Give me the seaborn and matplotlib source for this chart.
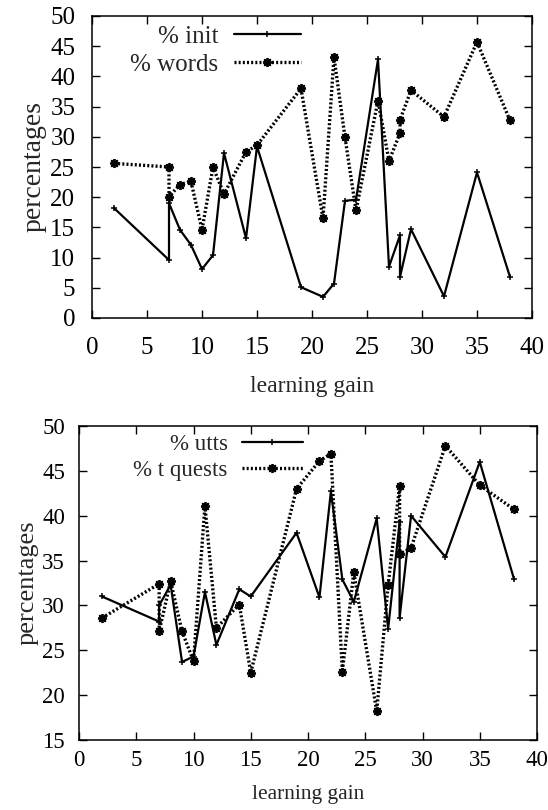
import pandas as pd
import matplotlib
matplotlib.use("Agg")
import matplotlib.pyplot as plt
import seaborn as sns

# values (learning gain sorted, duplicates kept in plot order)
gain = [2, 7, 7, 8, 9, 10, 11, 12, 14, 15, 19, 21, 22, 23, 24, 26, 27, 28, 28, 29, 32, 35, 38]

pct_init = [18.2, 9.6, 19.0, 14.6, 12.1, 8.1, 10.4, 27.3, 13.2, 28.4, 5.1, 3.5,
            5.7, 19.4, 19.6, 42.8, 8.5, 13.7, 6.8, 14.7, 3.6, 24.1, 6.8]
pct_words = [25.6, 25.0, 20.1, 22.1, 22.6, 14.6, 25.0, 20.5, 27.5, 28.6, 38.0, 16.5,
             43.2, 29.9, 17.8, 36.0, 26.0, 30.6, 32.8, 37.7, 33.3, 45.7, 32.7]

pct_utts = [31.0, 28.2, 30.0, 32.3, 23.7, 24.3, 31.5, 25.6, 31.8, 31.0, 38.1, 30.9,
            42.7, 32.9, 30.4, 39.7, 27.4, 39.3, 28.6, 40.0, 35.4, 46.0, 32.9]
pct_tquests = [28.6, 32.4, 27.1, 32.7, 27.1, 23.8, 41.1, 27.5, 30.1, 22.5, 43.0, 46.1,
               46.9, 22.6, 33.7, 18.2, 32.3, 43.3, 35.7, 36.4, 47.8, 43.4, 40.7]

top = pd.DataFrame({"gain": gain, "init": pct_init, "words": pct_words})
bot = pd.DataFrame({"gain": gain, "utts": pct_utts, "tquests": pct_tquests})

sns.set_style("ticks")
plt.rcParams["font.family"] = ["Liberation Serif", "DejaVu Serif"]

fig = plt.figure(figsize=(5.48, 8.10), dpi=100)
ax1 = fig.add_axes([92 / 548, 1 - 318 / 810, 440 / 548, 302 / 810])
ax2 = fig.add_axes([79 / 548, 1 - 740 / 810, 458 / 548, 314 / 810])

asterisk = (8, 2, 0)


def draw(ax, df, cols, labels, fs, yfs, pads, anchor, ylim, yticks):
    sns.lineplot(data=df, x="gain", y=cols[0], ax=ax, estimator=None, sort=False,
                 color="black", lw=1.6, marker="+", markersize=5, mew=1.1,
                 mec="black", mfc="black", label=labels[0])
    sns.lineplot(data=df, x="gain", y=cols[1], ax=ax, estimator=None, sort=False,
                 color="black", lw=2.4, linestyle=(0, (0.6, 0.65)), marker=asterisk,
                 markersize=6.5, mew=1.3, mec="black", mfc="black", label=labels[1])
    ax.set_xlim(0, 40)
    ax.set_ylim(*ylim)
    ax.set_xticks(range(0, 41, 5))
    ax.set_yticks(yticks)
    ax.tick_params(direction="in", length=6, width=1, top=True, right=True,
                   labelsize=fs, colors="black")
    ax.tick_params(axis="x", pad=pads[0])
    ax.tick_params(axis="y", pad=pads[1])
    for s in ax.spines.values():
        s.set_linewidth(1.1)
        s.set_color("black")
    ax.set_xlabel("learning gain", fontsize=fs - 1, labelpad=pads[2])
    ax.set_ylabel("percentages", fontsize=yfs, labelpad=3)
    ax.legend(loc="upper right", bbox_to_anchor=anchor, frameon=False,
              markerfirst=False, fontsize=fs, handlelength=2.7, handletextpad=0.6,
              labelspacing=0.22, borderpad=0, borderaxespad=0)


draw(ax1, top, ["init", "words"], ["% init", "% words"], 18, 20, (14, 12, 12),
     (0.475, 0.968), (0, 50), range(0, 51, 5))
draw(ax2, bot, ["utts", "tquests"], ["% utts", "% t quests"], 16.5, 19, (7, 10, 10),
     (0.49, 0.975), (15, 50), range(15, 51, 5))

fig.savefig("out.png", dpi=100)
